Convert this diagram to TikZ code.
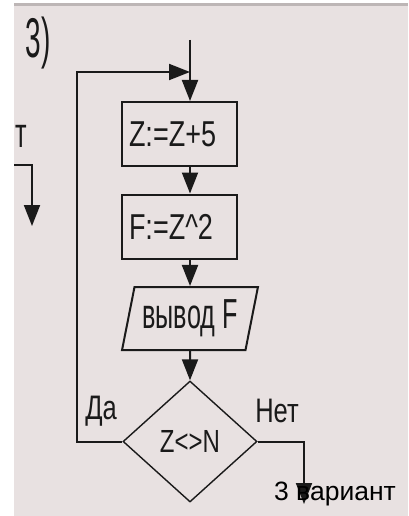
\documentclass[tikz,border=0pt]{standalone}
\usepackage{fontspec}
\usepackage{tikz}
\usetikzlibrary{arrows.meta}
\usetikzlibrary{shapes.geometric}
\newfontfamily\diafont[FakeStretch=0.75]{Liberation Sans}
\newfontfamily\tallfont[FakeStretch=0.6]{Liberation Sans}
\newfontfamily\numfont[FakeStretch=0.5]{Liberation Sans}
\newfontfamily\capfont{Liberation Sans}
\definecolor{paper}{HTML}{E8E1E1}
\definecolor{band}{HTML}{BDB6B6}
\definecolor{ink}{HTML}{1A1A1A}

\begin{document}
\begin{tikzpicture}[x=1pt,y=-1pt,
    line/.style={draw=ink, line width=2pt},
    arr/.style={line, -{Triangle[length=21pt,width=16pt]}},
    txt/.style={text=ink, inner sep=0pt, font=\diafont\fontsize{34}{36}\selectfont},
    opbox/.style={line, rectangle, minimum width=115pt, minimum height=64pt,
        text width=101pt, inner xsep=7pt, inner ysep=0pt, align=left,
        text=ink, font=\diafont\fontsize{36}{38}\selectfont},
    iobox/.style={line, trapezium, trapezium left angle=74, trapezium right angle=106,
        trapezium stretches=true, minimum width=136pt, minimum height=63pt,
        inner sep=0pt, text=ink, font=\tallfont\fontsize{42}{44}\selectfont},
    testbox/.style={draw=ink, line width=1.4pt, diamond, aspect=1.1,
        minimum width=134pt, minimum height=121pt, inner sep=0pt,
        text=ink, font=\diafont\fontsize{32}{36}\selectfont}]
        % Background
        \useasboundingbox (0,0) rectangle (408,516);
        \fill[paper] (14,6) rectangle (408,516);
        \fill[band] (14,3) rectangle (408,6);

        % Nodes
        \node[opbox]   (zinc) at (179.5,134)   {Z:=Z+5};
        \node[opbox]   (fsq)  at (179.5,226.5) {F:=Z\^{}2};
        \node[iobox]   (out)  at (190,318.5)   {вывод F};
        \node[testbox] (cmp)  at (190,441.5)   {Z<>N};
        \coordinate (entry) at (190,40);
        \coordinate (loop)  at (77,72);
        \coordinate (fin)   at (304,504);
        \coordinate (lin)   at (14,165);
        \coordinate (lout)  at (32,226);

        % Edges
        \draw[arr] (entry) -- (zinc.north -| entry);
        \draw[arr] (zinc.south -| cmp.north) -- (fsq.north -| cmp.north);
        \draw[arr] (fsq.south -| out.north) -- (out.north);
        \draw[arr] (out.south) -- (cmp.north);
        \draw[arr] (cmp.west) -| (loop) -- (loop -| entry);
        \draw[arr] (cmp.east) -| (fin);
        \draw[arr] (lin) -| (lout);

        % Labels
        \node[txt, font=\numfont\fontsize{56}{60}\selectfont] (num) at (38,43) {3)};
        \node[txt, font=\tallfont\fontsize{42}{44}\selectfont] (tail) at (21.5,136) {т};
        \node[txt] (yes)  at (101,411)  {Да};
        \node[txt] (no)   at (277,411)  {Нет};
        \node[inner sep=0pt, font=\capfont\fontsize{26.5}{30}\selectfont] (cap) at (335,494) {3 вариант};
    \end{tikzpicture}
\end{document}
